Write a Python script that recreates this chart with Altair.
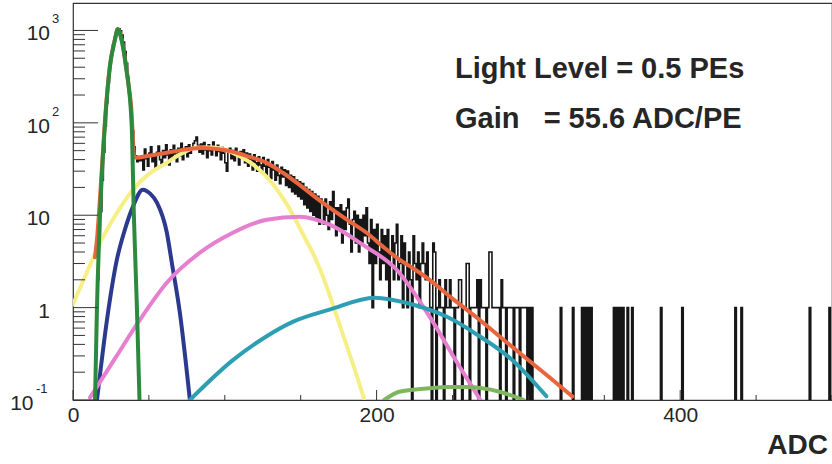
import altair as alt
import pandas as pd

# ---------------- data ----------------
# histogram: 1 ADC per bin, counts for bins starting at hist_first_bin
hist_first_bin = 14
hist_counts = [
    0, 1, 2, 5, 11, 24, 48, 92, 165, 270,
    395, 540, 690, 830, 940, 1010, 1040, 990, 890, 750,
    590, 440, 310, 205, 130, 82, 55, 44, 38, 43,
    39, 42, 31, 52, 41, 34, 47, 55, 38, 44,
    33, 48, 56, 40, 36, 50, 42, 58, 45, 35,
    51, 42, 57, 46, 38, 53, 44, 60, 40, 50,
    55, 43, 58, 47, 52, 60, 64, 70, 57, 48,
    59, 46, 61, 51, 42, 58, 50, 45, 62, 53,
    44, 57, 49, 40, 54, 47, 37, 30, 48, 53,
    41, 50, 39, 53, 44, 35, 49, 42, 51, 37,
    47, 34, 46, 40, 31, 45, 37, 30, 43, 35,
    29, 42, 34, 27, 40, 33, 25, 38, 31, 24,
    35, 27, 22, 33, 26, 31, 21, 30, 20, 27,
    18, 26, 17, 24, 16, 23, 15, 22, 13, 20,
    12, 19, 11, 18, 10, 17, 9, 16, 8, 15,
    14, 8, 15, 10, 7, 14, 9, 18, 12, 6,
    12, 7, 13, 5, 11, 7, 12, 15, 8, 4,
    9, 11, 5, 10, 4, 9, 5, 10, 6, 12,
    5, 3, 9, 1, 7, 3, 8, 4, 2, 7,
    3, 6, 2, 7, 1, 4, 6, 2, 5, 8,
    2, 3, 6, 1, 5, 3, 1, 4, 2, 0,
    6, 3, 2, 4, 1, 3, 5, 3, 2, 4,
    2, 1, 0, 5, 4, 0, 1, 2, 1, 1,
    0, 2, 1, 1, 2, 1, 1, 0, 1, 1,
    2, 2, 0, 1, 1, 3, 3, 0, 1, 1,
    1, 1, 2, 0, 2, 1, 1, 1, 0, 1,
    4, 4, 1, 1, 1, 1, 1, 0, 2, 1,
    1, 0, 1, 1, 1, 1, 0, 1, 1, 1,
    0, 1, 1, 1, 1, 0, 1, 0, 1,
]
# isolated single-count bins in the sparse tail
hist_single_bins = [321, 329, 335, 337, 339, 341, 356, 358, 360, 362,
                    365, 368, 387, 401, 436, 440, 485, 498]
hist_n_bins = 500

# fitted curves (ADC, counts)
ped_x = [14.5, 15.8, 17.8, 21.1, 24.3, 27.6, 29.5, 32.0, 34.9, 38.6, 40.1, 42.1, 43.8]
ped_y = [0.1, 1, 10, 100, 405, 790, 1030, 790, 405, 100, 10, 1, 0.1]

blue_x = [15.8, 22.4, 28.9, 34.2, 39.5, 46.0, 51.0, 55.3, 61.8, 65.1, 70.4, 77.0]
blue_y = [0.1, 0.74, 3.3, 7.0, 12.4, 18.9, 17.0, 13.7, 6.5, 3.06, 0.88, 0.1]

yel_x = [0, 10, 17.8, 28, 39.5, 50, 61.8, 72, 82, 92, 105.3, 117, 127.6, 137,
         145, 152, 158, 165, 171, 178, 185, 192]
yel_y = [1.08, 2.6, 5.0, 10, 18.9, 28, 37, 47, 54, 54, 47.4, 37, 26, 16.5,
         10, 6, 3.9, 2.1, 1.1, 0.5, 0.23, 0.1]

pink_x = [11.2, 27.6, 44.1, 61.8, 83.6, 105.3, 127.6, 149.3, 169.1, 190.8,
          213.2, 234.9, 253.3, 268.4]
pink_y = [0.106, 0.28, 0.74, 1.86, 3.93, 6.46, 8.94, 9.63, 7.9, 4.8,
          2.57, 0.8, 0.25, 0.1]

teal_x = [77, 105.3, 127.6, 144.7, 169, 198.7, 223.7, 246, 267.8, 289.5, 311.8]
teal_y = [0.1, 0.27, 0.49, 0.7, 0.95, 1.28, 1.08, 0.8, 0.49, 0.27, 0.11]

lgreen_x = [205, 215, 236.8, 246, 259, 281, 297]
lgreen_y = [0.1, 0.123, 0.135, 0.138, 0.138, 0.123, 0.1]

total_x = [14.5, 15.8, 17.8, 21.1, 24.3, 27.6, 29.5, 32.0, 34.9, 37.0, 38.6, 39.4,
           40.3, 41.5, 50, 61.8, 72, 83.6, 95, 105.3, 116, 127.6, 138, 149.3, 160,
           171.1, 182, 193.4, 204, 215.1, 225, 234.9, 250, 267.8, 285, 300.7, 315, 329]
total_y = [3.5, 5.5, 15.5, 108, 412, 797, 1035, 797, 416, 230, 130, 70,
           44, 42, 44, 47.4, 51, 53.5, 52, 48.7, 43, 36.9, 29, 21.3, 15.5,
           11.4, 8.6, 6.46, 4.6, 3.3, 2.6, 2.0, 1.25, 0.74, 0.43, 0.264, 0.17, 0.109]

# axis / text content
x_label_values = [0, 200, 400]
x_minor_step = 50
y_decades = [0.1, 1, 10, 100, 1000]
y_label_base = ["10", "1", "10", "10", "10"]
y_label_exp = ["-1", "", "", "2", "3"]
note_line1 = "Light Level = 0.5 PEs"
note_line2 = "Gain\u00a0\u00a0\u00a0= 55.6 ADC/PE"
x_title = "ADC"

# ---------------- build tables ----------------
counts = [0] * hist_n_bins
for i, c in enumerate(hist_counts):
    counts[hist_first_bin + i] = c
for b in hist_single_bins:
    counts[b] = 1
hist_df = pd.DataFrame({"x": list(range(hist_n_bins)) + [hist_n_bins],
                        "count": counts + [counts[-1]]})

W, H = 759, 397
xs = alt.Scale(domain=[0, hist_n_bins], nice=False, zero=False)
ys = alt.Scale(type="log", domain=[0.1, 1982], nice=False)
FONT = "Liberation Sans"
TXT = "#262626"

x_axis = alt.Axis(values=x_label_values, ticks=False, domain=False, grid=False,
                  labelFont=FONT, labelFontSize=21, labelColor=TXT, labelPadding=4,
                  labelFlush=False, title=None, format="d")

hist = alt.Chart(hist_df).transform_calculate(
    yplot="max(datum['count'], 0.01)"
).mark_line(interpolate="step-after", color="#161616", strokeWidth=1.6, clip=True).encode(
    x=alt.X("x:Q", scale=xs, axis=x_axis),
    y=alt.Y("yplot:Q", scale=ys, axis=None),
)


def curve(xv, yv, color):
    df = pd.DataFrame({"x": xv, "y": yv})
    return alt.Chart(df).mark_line(color=color, strokeWidth=4, interpolate="monotone",
                                   clip=True, strokeCap="round").encode(
        x=alt.X("x:Q", scale=xs, axis=x_axis),
        y=alt.Y("y:Q", scale=ys, axis=None),
    )


c_yel = curve(yel_x, yel_y, "#f6ef86")
c_blue = curve(blue_x, blue_y, "#2b3a8f")
c_pink = curve(pink_x, pink_y, "#e67fcf")
c_teal = curve(teal_x, teal_y, "#2e9fb3")
c_lg = curve(lgreen_x, lgreen_y, "#7db65c")
c_tot = curve(total_x, total_y, "#e8663d")
c_ped = curve(ped_x, ped_y, "#2c8a3e")

# y ticks (inside the frame)
minor_vals = [k * d for d in y_decades[:-1] for k in range(2, 10)]
ytick_major = alt.Chart(pd.DataFrame({"v": y_decades})).mark_rule(color="#333", strokeWidth=1).encode(
    y=alt.Y("v:Q", scale=ys, axis=None), x=alt.value(0), x2=alt.value(25))
ytick_minor = alt.Chart(pd.DataFrame({"v": minor_vals})).mark_rule(color="#333", strokeWidth=1).encode(
    y=alt.Y("v:Q", scale=ys, axis=None), x=alt.value(0), x2=alt.value(12))

xminor_vals = [v for v in range(0, hist_n_bins + 1, x_minor_step) if v not in x_label_values]
xtick_minor = alt.Chart(pd.DataFrame({"v": xminor_vals})).mark_rule(color="#333", strokeWidth=1).encode(
    x=alt.X("v:Q", scale=xs, axis=x_axis), y=alt.value(H), y2=alt.value(H - 5))
xtick_major = alt.Chart(pd.DataFrame({"v": x_label_values})).mark_rule(color="#333", strokeWidth=1).encode(
    x=alt.X("v:Q", scale=xs, axis=x_axis), y=alt.value(H), y2=alt.value(H - 10))

ylab_df = pd.DataFrame({"v": y_decades, "base": y_label_base, "exp": y_label_exp})
ylab_pos = alt.Chart(ylab_df).transform_filter("datum.exp != '-1'")
ylab_neg = alt.Chart(ylab_df).transform_filter("datum.exp == '-1'")
base_style = dict(align="right", baseline="alphabetic", dy=10, font=FONT, fontSize=21, color=TXT)
exp_style = dict(align="left", baseline="alphabetic", dy=-7, font=FONT, fontSize=13, color=TXT)
ylab_b1 = ylab_pos.mark_text(**base_style).encode(
    y=alt.Y("v:Q", scale=ys, axis=None), x=alt.value(-23), text="base:N")
ylab_e1 = ylab_pos.mark_text(**exp_style).encode(
    y=alt.Y("v:Q", scale=ys, axis=None), x=alt.value(-21), text="exp:N")
ylab_b2 = ylab_neg.mark_text(**base_style).encode(
    y=alt.Y("v:Q", scale=ys, axis=None), x=alt.value(-39.5), text="base:N")
ylab_e2 = ylab_neg.mark_text(**exp_style).encode(
    y=alt.Y("v:Q", scale=ys, axis=None), x=alt.value(-37), text="exp:N")

note_style = dict(align="left", baseline="alphabetic", font=FONT, fontWeight="bold",
                  fontSize=29, color=TXT)
note1 = alt.Chart(pd.DataFrame({"t": [note_line1]})).mark_text(**note_style).encode(
    x=alt.value(382), y=alt.value(75), text="t:N")
note2 = alt.Chart(pd.DataFrame({"t": [note_line2]})).mark_text(**note_style).encode(
    x=alt.value(382), y=alt.value(125), text="t:N")
xtitle = alt.Chart(pd.DataFrame({"t": [x_title]})).mark_text(
    align="right", baseline="alphabetic", font=FONT, fontWeight="bold", fontSize=28, color=TXT
).encode(x=alt.value(W - 4), y=alt.value(451), text="t:N")

chart = alt.layer(
    hist, c_yel, c_blue, c_pink, c_teal, c_lg, c_tot, c_ped,
    ytick_major, ytick_minor, xtick_minor, xtick_major,
    ylab_b1, ylab_e1, ylab_b2, ylab_e2, note1, note2, xtitle,
).properties(
    width=W, height=H,
    padding={"left": 73, "top": 3, "right": 0, "bottom": 60},
    autosize=alt.AutoSizeParams(type="none"),
    background="white",
).configure_view(stroke="#333", strokeWidth=1.2)

chart.save("out.html", embed_options={"renderer": "svg", "actions": False})
